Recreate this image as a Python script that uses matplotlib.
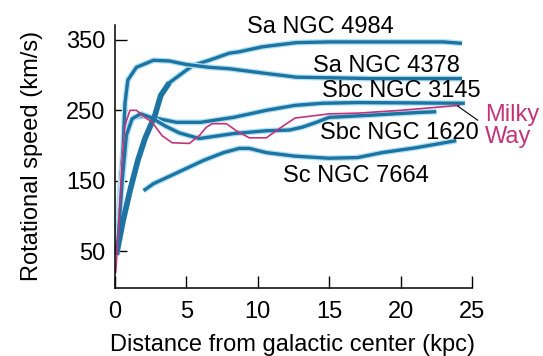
import matplotlib
matplotlib.use("Agg")
import matplotlib.pyplot as plt
import matplotlib.patheffects as pe

plt.rcParams['font.family'] = ['Liberation Sans', 'DejaVu Sans']

# rotation curves: distance [kpc], speed [km/s]
kpc_4984 = [0.1, 0.56, 1.05, 1.6, 2.1, 2.8, 3.2, 3.8, 5.0, 5.5, 6.6, 8.0, 8.7, 10.3, 11.5, 12.7, 15, 23, 24.3]
v_4984 = [45, 93, 136, 179, 210, 243, 271, 289, 307, 314, 321, 331, 333, 340, 343, 346, 347, 347, 345]

kpc_4378 = [0.1, 0.4, 0.56, 0.7, 0.9, 1.5, 2.7, 3.8, 5.0, 6.6, 8.0, 10.3, 12.7, 18, 24.3]
v_4378 = [60, 150, 193, 260, 293, 311, 321, 320, 315, 311, 309, 303, 297, 295, 295]

kpc_3145 = [0.1, 0.4, 0.7, 0.9, 1.3, 2.0, 2.8, 4.3, 6.0, 8.3, 10.6, 12.6, 14.5, 17, 24.5]
v_3145 = [55, 130, 190, 225, 240, 242, 239, 233, 233, 240, 250, 257, 260, 261, 260]

kpc_1620 = [0.2, 0.5, 0.8, 1.2, 1.8, 2.5, 3.5, 4.5, 5.9, 8.3, 10.6, 12.2, 13.1, 14.1, 15, 17.8, 21.3, 22.5]
v_1620 = [60, 150, 215, 238, 245, 240, 228, 218, 210, 217, 221, 222, 226, 233, 240, 243, 247, 248]

kpc_7664 = [2.0, 2.7, 4.3, 6.2, 7.6, 8.7, 9.4, 10.6, 12.6, 15, 17, 18.7, 21.1, 23.9]
v_7664 = [136, 146, 161, 179, 190, 196, 196, 190, 185, 182, 183, 190, 197, 207]

kpc_mw = [0.05, 0.3, 0.5, 0.7, 1.05, 1.5, 1.9, 2.6, 3.3, 4.0, 5.2, 5.9, 6.4, 6.8, 7.8, 8.5, 9.4, 10.6, 11.5, 12.6, 15, 17, 20, 24.1]
v_mw = [20, 100, 180, 229, 250, 250, 243, 233, 214, 204, 203, 214, 226, 231, 231, 221, 211, 211, 224, 239, 245, 246, 250, 257]

galaxy_labels = ["Sa NGC 4984", "Sa NGC 4378", "Sbc NGC 3145", "Sbc NGC 1620", "Sc NGC 7664"]
x_ticks = [0, 5, 10, 15, 20, 25]
y_ticks = [50, 150, 250, 350]

blue = '#1d74a3'
halo = '#b4e2f2'
pink = '#c2347a'
fs = 17

fig = plt.figure(figsize=(5.43, 3.56), dpi=100)
ax = fig.add_axes([115/543, 68/356, 357/543, 263/356])

halo_fx = [pe.withStroke(linewidth=4.2, foreground=halo)]
for kx, vy in [(kpc_4984, v_4984), (kpc_4378, v_4378), (kpc_3145, v_3145),
               (kpc_1620, v_1620), (kpc_7664, v_7664)]:
    ax.plot(kx, vy, color=blue, lw=2.4, solid_capstyle='butt', path_effects=halo_fx)
# inner part of NGC 4984 is drawn heavier in the original
ax.plot(kpc_4984[:8], v_4984[:8], color=blue, lw=4.0, solid_capstyle='butt')
ax.plot(kpc_mw, v_mw, color=pink, lw=1.2)

ax.set_xlim(0, 25)
ax.set_ylim(-2, 371)
ax.set_xticks(x_ticks)
ax.set_yticks(y_ticks)
ax.tick_params(direction='in', length=8.5, width=1.0, labelsize=fs, colors='black')
ax.tick_params(axis='x', pad=9)
ax.tick_params(axis='y', pad=7)
for s in ['top', 'right']:
    ax.spines[s].set_visible(False)
for s in ['left', 'bottom']:
    ax.spines[s].set_linewidth(1.1)

ax.set_xlabel("Distance from galactic center (kpc)", fontsize=fs, va='center')
ax.xaxis.set_label_coords(0.496, -0.217)
ax.set_ylabel("Rotational speed (km/s)", fontsize=fs, va='center')
ax.yaxis.set_label_coords(-0.232, 0.502)

# curve labels (left edge, vertical centre in data units)
label_pos = [(9.24, 368), (13.87, 313), (14.5, 278), (14.36, 218), (11.76, 157)]
for txt, (lx, ly) in zip(galaxy_labels, label_pos):
    ax.text(lx, ly, txt, fontsize=fs, ha='left', va='center', clip_on=False)

ax.text(25.9, 228, "Milky\nWay", fontsize=fs, color=pink, ha='left', va='center',
        linespacing=1.0, clip_on=False)
ax.plot([24.0, 25.4], [256, 236], color='black', lw=0.8, clip_on=False)

fig.savefig("out.png", dpi=100)
